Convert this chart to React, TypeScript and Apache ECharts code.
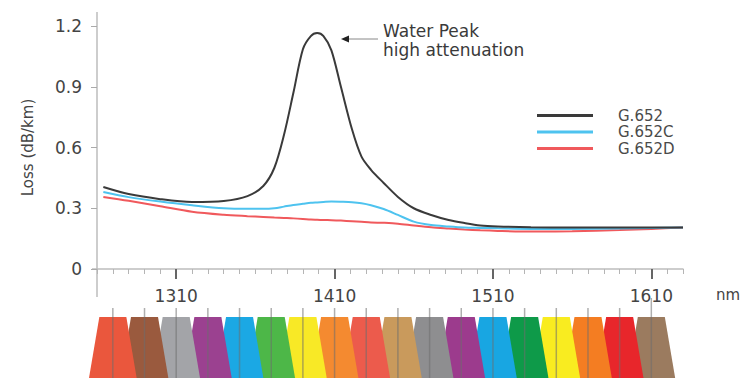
import React, { useEffect, useRef } from "react";
import * as echarts from "echarts";

// wavelength samples (nm)
const wavelengths = [1264, 1280, 1300, 1320, 1340, 1355, 1365, 1372, 1378, 1384, 1390, 1395, 1399, 1403, 1408, 1414, 1421, 1427, 1433, 1441, 1450, 1460, 1471, 1482, 1492, 1502, 1513, 1534, 1560, 1590, 1610, 1630];
// loss (dB/km)
const g652 = [0.405, 0.37, 0.345, 0.331, 0.336, 0.36, 0.41, 0.5, 0.66, 0.87, 1.085, 1.15, 1.165, 1.15, 1.08, 0.9, 0.69, 0.555, 0.49, 0.425, 0.356, 0.3, 0.267, 0.242, 0.227, 0.215, 0.21, 0.206, 0.205, 0.205, 0.205, 0.205];
const g652C = [0.38, 0.355, 0.333, 0.315, 0.3, 0.297, 0.297, 0.3, 0.308, 0.316, 0.322, 0.327, 0.329, 0.331, 0.333, 0.332, 0.33, 0.325, 0.315, 0.296, 0.267, 0.234, 0.217, 0.21, 0.205, 0.203, 0.201, 0.198, 0.198, 0.2, 0.202, 0.205];
const g652D = [0.356, 0.337, 0.31, 0.283, 0.268, 0.261, 0.257, 0.254, 0.252, 0.25, 0.247, 0.244, 0.243, 0.242, 0.241, 0.239, 0.236, 0.233, 0.23, 0.228, 0.224, 0.215, 0.206, 0.2, 0.195, 0.191, 0.188, 0.185, 0.186, 0.192, 0.198, 0.205];

const seriesNames = ["G.652", "G.652C", "G.652D"];
const seriesColors = ["#3a3a3a", "#4ec3ef", "#f0595c"];

const xMajorTicks = [1310, 1410, 1510, 1610];

// CWDM channels (nm) and their band colours
const channels = [1270, 1290, 1310, 1330, 1350, 1370, 1390, 1410, 1430, 1450, 1470, 1490, 1510, 1530, 1550, 1570, 1590, 1610];
const channelColors = ["#ea573d", "#9a5a3e", "#a3a4a8", "#9b4190", "#1ba8e4", "#4db748", "#f8e926", "#f48a30", "#ec5b4c", "#c99a5c", "#8e8e90", "#9c3b8d", "#18a6e2", "#0e9a49", "#f9ec20", "#f47d22", "#e8262b", "#9b7b5f"];

const FONT = "DejaVu Sans";

export default function App() {
  const ref = useRef<HTMLDivElement>(null);

  useEffect(() => {
    if (!ref.current) return;
    const chart = echarts.init(ref.current, null, { renderer: "svg" });

    const lineData = (vals: number[]) => wavelengths.map((w, i) => [w, vals[i]]);
    const bandData = channels.map((c, i) => [c, i]).reverse();

    const BAND_TOP = 317;
    const BAND_BOTTOM = 379;
    const LINE_TOP = 308;

    const option: any = {
      animation: false,
      backgroundColor: "#ffffff",
      grid: { left: 97, right: 63, top: 26, bottom: 109, containLabel: false },
      legend: {
        orient: "vertical",
        left: 532,
        top: 103,
        icon: "rect",
        itemWidth: 56,
        itemHeight: 3,
        itemGap: 1.5,
        data: seriesNames,
        textStyle: {
          fontFamily: FONT,
          fontSize: 15,
          lineHeight: 15,
          color: "#4a4a4a",
          padding: [0, 0, 0, 20],
        },
      },
      xAxis: [
        {
          type: "value",
          min: 1260,
          max: 1630,
          interval: 10,
          axisLine: { show: true, lineStyle: { color: "#bdbdbd", width: 1.5 } },
          axisTick: { show: true, length: 5, lineStyle: { color: "#b5b5b5", width: 1 } },
          axisLabel: { show: false },
          splitLine: { show: false },
        },
        {
          type: "value",
          min: 1260,
          max: 1630,
          position: "bottom",
          axisLine: { show: false },
          axisTick: { show: true, customValues: xMajorTicks, length: 10, lineStyle: { color: "#666", width: 2 } },
          axisLabel: {
            show: true,
            customValues: xMajorTicks,
            margin: 18,
            fontFamily: FONT,
            fontSize: 17,
            color: "#444",
            formatter: (v: number) => String(v),
          },
          splitLine: { show: false },
        },
      ],
      yAxis: {
        type: "value",
        min: 0,
        max: 1.2,
        interval: 0.3,
        name: "Loss (dB/km)",
        nameLocation: "middle",
        nameRotate: 90,
        nameGap: 62,
        nameTextStyle: { fontFamily: FONT, fontSize: 15, color: "#444" },
        axisLine: { show: false },
        axisTick: { show: true, length: 6, lineStyle: { color: "#aaa", width: 1 } },
        axisLabel: {
          margin: 15,
          fontFamily: FONT,
          fontSize: 17,
          color: "#444",
          formatter: (v: number) => (v === 0 ? "0" : v.toFixed(1)),
        },
        splitLine: { show: false },
      },
      series: [
        ...seriesNames.map((name, k) => ({
          name,
          type: "line",
          xAxisIndex: 0,
          smooth: 0.3,
          showSymbol: false,
          symbol: "none",
          data: lineData([g652, g652C, g652D][k]),
          lineStyle: { color: seriesColors[k], width: 2 },
          itemStyle: { color: seriesColors[k] },
          z: 5 - k,
        })),
        {
          name: "bands",
          type: "custom",
          xAxisIndex: 0,
          clip: false,
          silent: true,
          data: bandData,
          renderItem: (params: any, api: any) => {
            const c = api.value(0);
            const idx = api.value(1);
            const x = api.coord([c, 0])[0];
            return {
              type: "group",
              children: [
                {
                  type: "polygon",
                  shape: {
                    points: [
                      [x - 13.5, BAND_TOP],
                      [x + 13.5, BAND_TOP],
                      [x + 24, BAND_BOTTOM],
                      [x - 24, BAND_BOTTOM],
                    ],
                  },
                  style: { fill: channelColors[idx] },
                },
                {
                  type: "line",
                  shape: { x1: x, y1: c === 1610 ? 298 : LINE_TOP, x2: x, y2: BAND_BOTTOM },
                  style: { stroke: "rgba(110,110,110,0.55)", lineWidth: 1.5 },
                },
              ],
            };
          },
        },
      ],
      graphic: [
        {
          type: "line",
          shape: { x1: 97, y1: 12, x2: 97, y2: 297 },
          style: { stroke: "#bdbdbd", lineWidth: 1.5 },
          silent: true,
        },
        {
          type: "line",
          shape: { x1: 92, y1: 269, x2: 97, y2: 269 },
          style: { stroke: "#bdbdbd", lineWidth: 1.5 },
          silent: true,
        },
        {
          type: "text",
          left: 716,
          top: 287,
          style: { text: "nm", font: `15px "${FONT}"`, fill: "#444" },
        },
        {
          type: "text",
          left: 383,
          top: 22,
          style: { text: "Water Peak", font: `17px "${FONT}"`, fill: "#3a3a3a" },
        },
        {
          type: "text",
          left: 383,
          top: 41,
          style: { text: "high attenuation", font: `17px "${FONT}"`, fill: "#3a3a3a" },
        },
        {
          type: "line",
          shape: { x1: 346, y1: 39, x2: 378, y2: 39 },
          style: { stroke: "#888", lineWidth: 1 },
          silent: true,
        },
        {
          type: "polygon",
          shape: { points: [[341, 39], [349, 35.5], [349, 42.5]] },
          style: { fill: "#222" },
          silent: true,
        },
      ],
    };

    chart.setOption(option);
    return () => chart.dispose();
  }, []);

  return (
    <div
      ref={ref}
      style={{ position: "absolute", left: 0, top: 0, width: 746, height: 378 }}
    />
  );
}
